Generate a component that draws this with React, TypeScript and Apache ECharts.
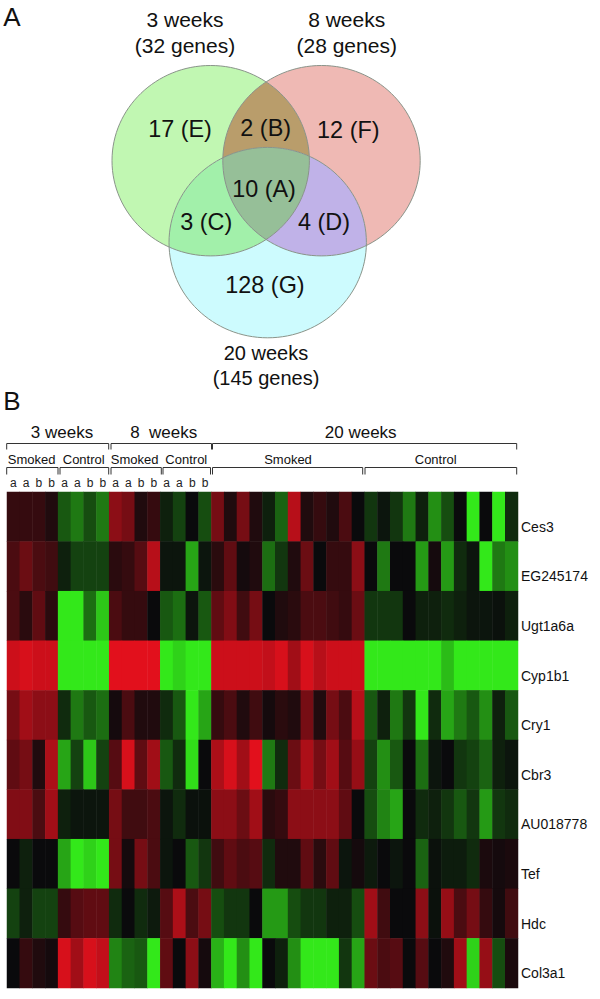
import React, { useEffect, useRef } from "react";
import * as echarts from "echarts";

// ---------- data ----------
const genes = ["Ces3", "EG245174", "Ugt1a6a", "Cyp1b1", "Cry1", "Cbr3", "AU018778", "Tef", "Hdc", "Col3a1"];
const sampleLabels = ["a", "a", "b", "b", "a", "a", "b", "b", "a", "a", "b", "b", "a", "a", "b", "b",
  "", "", "", "", "", "", "", "", "", "", "", "", "", "", "", "", "", "", "", "", "", "", "", ""];

const ces3 = [2, 2, 2, 1, -3.5, -5, -3, -5, 6, 5, 1, 2, -1, -2.5, 0, -3, 5, 1, 5, 1, -1, -4, 8, 1, 2, 1, 3, 0, -2, -0.5, -2, -5, -1, -6, -3, 0, -10, 0, -10, -1.5];
const eg245174 = [3, 4.5, 3, 2.5, -1, -2.5, -2.5, -2.5, 1.5, 2, 3.5, 8, -0.5, -0.5, -7, -0.5, 1.5, 4, 0.5, 1, -4.5, -2, 1, 4.5, 0, 2, 2, 6, 0, -5, 0, 0, -6.5, 0.5, -6.5, -1.5, -0.5, -10, -5, -6];
const ugt1a6a = [3, 1.5, 4, 1.5, -10, -10, -4.5, -8.5, 3, 2, 2, 0, -3.5, -4.5, -0.5, -3.5, 4, 5.5, 2.5, 5, 0, 1, 1.5, 3, 3, 2.5, 2, 4.5, -2, -2, -2, 0, -1, -1, -1.5, -1, -0.5, -0.5, -0.3, -1];
const cyp1b1 = [9, 9.5, 9, 9, -10, -10, -10, -10, 10, 10, 10, 10, -10, -9, -10, -10, 9, 9, 9, 9, 8.5, 9.5, 7, 9.5, 8, 9, 9, 9, -10, -10, -10, -10, -10, -10, -8, -10, -10, -10, -10, -10];
const cry1 = [5, 7, 6, 6, -1.5, -5, -3.5, -4.5, 0.5, 3, 1, 1, -1.5, -3.5, -10, -7, 2, 3, 1, 2.5, 0.5, 1.5, 1, 5, 1, 5, 3, 8, -3.5, -1, -5, -2, -10, -1.5, -7, -5, -3.5, -6, -1, -3.5];
const cbr3 = [4, 5, 1, 7.5, -7, -2.5, -8.5, -2.5, 3.5, 9.5, 4, 7, -3.5, -1.5, -9.5, 0, 7.5, 9.5, 7, 10, -5, -1.5, 4.5, 7.5, 5, 7, 3.5, 6.5, -2.5, -6, -3.5, 0, -4.5, -0.5, 0, -2, -2.5, -4, -1, -0.5];
const au018778 = [5.5, 5.5, 3, 7, -1, -0.5, -0.5, -0.5, 5, 2.5, 2.5, 3, -0.5, -1.5, -0.3, -0.3, 6, 6, 4.5, 7, 1.5, 2, 6, 6, 6, 6, 4, 0, -3, -5.5, -7, 0, -1.5, -1, -2, -3.5, -2, -6.5, -2, -1.5];
const tef = [0, -1, 0, 0, -7, -10, -9, -10, 5, 0.5, 5, 3, -0.5, 0, -3.5, -2, 2.5, 4, 3, 3.5, -1.5, 1, 1, 4, 1.5, 4, -0.5, 0.5, -0.7, 0, -0.5, 0, -4, -0.3, -0.8, -0.8, -1.5, 0.8, 0.5, 0.8];
const hdc = [-2.5, -1, -2.5, -2.5, 2, 3.5, 4, 4, -1.5, 0, -1.5, -0.7, 3.5, 7.5, 3, 5, -3, -2, -2, 0, -6.5, -6.5, -3, -2, -2, -1, -1, -3, 7, 2.5, 0, 0, 6, -0.3, 6.5, 3, 5, 2, 0.5, 2.5];
const col3a1 = [0, 2, 1, 0.5, 9.5, 7, 9.5, 8.5, -5.5, -4, -3.5, -10, 4, 0, 6, 0.5, -7.5, -10, -6, -10, 0, -1, -6, -10, -10, -10, -2, -7, 4.5, 3, 3.5, 0, 3.5, 0, 1, 7, -9, 6.5, -3, 0.8];
const expression = [ces3, eg245174, ugt1a6a, cyp1b1, cry1, cbr3, au018778, tef, hdc, col3a1];

const vennRegionLabels = ["17 (E)", "2 (B)", "12 (F)", "10 (A)", "3 (C)", "4 (D)", "128 (G)"];
const vennSetLabels = ["3 weeks", "(32 genes)", "8 weeks", "(28 genes)", "20 weeks", "(145 genes)"];
const weekLabels = ["3 weeks", "8  weeks", "20 weeks"];
const groupLabels = ["Smoked", "Control", "Smoked", "Control", "Smoked", "Control"];
const panelLabels = ["A", "B"];

// ---------- layout ----------
const FONT = '"Liberation Sans", Arial, sans-serif';
const RX = 98.7, RY = 95.2;
const C1 = [210.7, 160.7], C2 = [321.5, 160.7], C3 = [267.7, 242.6];

const vennRegionPos = [[180, 129], [265.7, 128], [348.3, 130], [264, 189], [206.3, 222], [324, 222], [265, 285]];
const vennSetPos = [[185, 19.5], [185, 45], [346.7, 19.5], [346.7, 45], [266, 353], [266, 378]];
const weekPos = [[62, 432], [163.7, 432], [360.7, 432]];
const groupPos = [[31.7, 459], [83.7, 459], [134.7, 459], [186.3, 459], [288, 459], [435.7, 459]];
const panelPos = [[12, 17], [12, 401]];
const weekBrackets = [[6.7, 108.7], [111, 211.5], [212.5, 516.7]];
const groupBrackets = [[6.7, 58], [60, 108.7], [111, 161.3], [163, 210.5], [212.5, 362.7], [365, 516.7]];

// Intersections of two equal ellipses: solved in a circle space, then mapped back.
function crossings(a: number[], b: number[]) {
  const k = RY / RX;
  const ax = a[0], ay = a[1] / k, bx = b[0], by = b[1] / k;
  const mx = (ax + bx) / 2, my = (ay + by) / 2;
  const d = Math.hypot(bx - ax, by - ay);
  const h = Math.sqrt(RX * RX - (d * d) / 4);
  const ux = -(by - ay) / d, uy = (bx - ax) / d;
  return [[mx + ux * h, (my + uy * h) * k], [mx - ux * h, (my - uy * h) * k]];
}
function inner(a: number[], b: number[], third: number[]) {
  const [p, q] = crossings(a, b);
  const dist = (s: number[]) => Math.hypot(s[0] - third[0], s[1] - third[1]);
  return dist(p) < dist(q) ? p : q;
}
const arc = (p: number[]) => `A ${RX} ${RY} 0 0 1 ${p[0]} ${p[1]}`;
function lensPath(a: number[], b: number[]) {
  const [p, q] = crossings(a, b);
  return `M ${p[0]} ${p[1]} ${arc(q)} ${arc(p)} Z`;
}
function triplePath() {
  const left = inner(C2, C3, C1), right = inner(C1, C3, C2), bottom = inner(C1, C2, C3);
  return `M ${left[0]} ${left[1]} ${arc(right)} ${arc(bottom)} ${arc(left)} Z`;
}

echarts.graphic.registerShape("lens12", echarts.graphic.extendPath(lensPath(C1, C2), {}));
echarts.graphic.registerShape("lens13", echarts.graphic.extendPath(lensPath(C1, C3), {}));
echarts.graphic.registerShape("lens23", echarts.graphic.extendPath(lensPath(C2, C3), {}));
echarts.graphic.registerShape("triple", echarts.graphic.extendPath(triplePath(), {}));

const label = (text: string, pos: number[], size: number) => ({
  type: "text",
  x: pos[0],
  y: pos[1],
  silent: true,
  z: 20,
  style: {
    text,
    fill: "#111",
    font: `${size}px ${FONT}`,
    align: "center",
    verticalAlign: "middle",
    textAlign: "center",
    textVerticalAlign: "middle",
  },
});

const bracket = (x0: number, x1: number, y: number, drop: number) => ({
  type: "polyline",
  silent: true,
  z: 20,
  shape: { points: [[x0, y + drop], [x0, y], [x1, y], [x1, y + drop]] },
  style: { fill: "none", stroke: "#333", lineWidth: 1 },
});

const ellipse = (c: number[], fill: string, stroke: string) => ({
  type: "ellipse",
  silent: true,
  z: stroke === "none" ? 10 : 15,
  shape: { cx: c[0], cy: c[1], rx: RX, ry: RY },
  style: { fill, stroke, lineWidth: 1 },
});

const region = (type: string, fill: string) => ({ type, x: 0, y: 0, silent: true, z: 12, style: { fill } });

export default function App() {
  const ref = useRef<HTMLDivElement>(null);
  useEffect(() => {
    const chart = echarts.init(ref.current!, null, { renderer: "svg" });
    const cells: number[][] = [];
    expression.forEach((row, r) => row.forEach((v, c) => cells.push([c, r, v])));
    chart.setOption({
      animation: false,
      backgroundColor: "#fff",
      grid: { left: 7, top: 492, width: 511, height: 496 },
      xAxis: {
        type: "category",
        position: "top",
        data: sampleLabels,
        axisLine: { show: false },
        axisTick: { show: false },
        splitLine: { show: false },
        axisLabel: { interval: 0, fontSize: 12, margin: 3, color: "#222", fontFamily: FONT },
      },
      yAxis: {
        type: "category",
        position: "right",
        inverse: true,
        data: genes,
        axisLine: { show: false },
        axisTick: { show: false },
        splitLine: { show: false },
        axisLabel: { interval: 0, fontSize: 14, margin: 3, color: "#111", fontFamily: FONT, verticalAlign: "top", padding: [3, 0, 0, 0] },
      },
      visualMap: {
        show: false,
        type: "continuous",
        min: -10,
        max: 10,
        dimension: 2,
        inRange: { color: ["#33e81a", "#0a0a0c", "#e2101c"] },
      },
      series: [{
        type: "heatmap",
        data: cells,
        itemStyle: { borderWidth: 0 },
        emphasis: { disabled: true },
      }],
      graphic: [
        ellipse(C1, "#c1f7b2", "none"),
        ellipse(C2, "#efb9b4", "none"),
        ellipse(C3, "#cdfbfe", "none"),
        region("lens12", "#b99d6b"),
        region("lens13", "#a2f0aa"),
        region("lens23", "#c0b2e8"),
        { ...region("triple", "#96bf98"), z: 13 },
        ellipse(C1, "none", "#8a948a"),
        ellipse(C2, "none", "#8a948a"),
        ellipse(C3, "none", "#8a948a"),
        ...vennRegionLabels.map((t, i) => label(t, vennRegionPos[i], 23.4)),
        ...vennSetLabels.map((t, i) => label(t, vennSetPos[i], i < 4 ? 21 : 20)),
        ...panelLabels.map((t, i) => label(t, panelPos[i], 26)),
        ...weekLabels.map((t, i) => label(t, weekPos[i], 17)),
        ...groupLabels.map((t, i) => label(t, groupPos[i], 13)),
        ...weekBrackets.map((b) => bracket(b[0], b[1], 443.5, 6)),
        ...groupBrackets.map((b) => bracket(b[0], b[1], 467.5, 7)),
      ],
    });
    return () => chart.dispose();
  }, []);
  return <div ref={ref} style={{ position: "absolute", left: 0, top: 0, width: 600, height: 999 }} />;
}
